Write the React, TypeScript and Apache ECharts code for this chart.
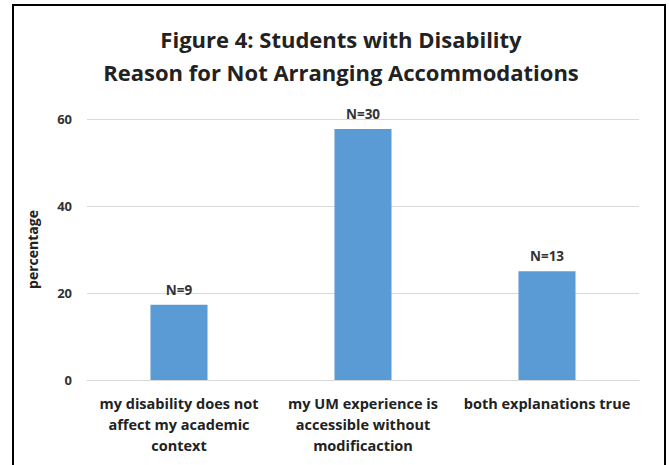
import React, { useEffect, useRef } from "react";
import * as echarts from "echarts";

const categories = [
  "my disability does not\naffect my academic\ncontext",
  "my UM experience is\naccessible without\nmodificaction",
  "both explanations true",
];
const percentages = [17.3, 57.7, 25.0];
const counts = ["N=9", "N=30", "N=13"];
const titleLines = ["Figure 4: Students with Disability", "Reason for Not Arranging Accommodations"];
const yAxisName = "percentage";

const FONT = "'Open Sans', 'Liberation Sans', sans-serif";

export default function App() {
  const ref = useRef<HTMLDivElement>(null);
  useEffect(() => {
    if (!ref.current) return;
    const chart = echarts.init(ref.current, undefined, { renderer: "svg" });
    chart.setOption({
      animation: false,
      backgroundColor: "#ffffff",
      title: {
        text: titleLines.join("\n"),
        left: 336,
        textAlign: "center",
        top: 17,
        textStyle: {
          fontFamily: FONT,
          fontSize: 22,
          fontWeight: "bold",
          color: "#222222",
          lineHeight: 33,
        },
      },
      graphic: [
        {
          type: "rect",
          shape: { x: 13, y: 5, width: 652, height: 480 },
          style: { fill: "none", stroke: "#000000", lineWidth: 2 },
          silent: true,
        },
      ],
      grid: { left: 87, right: 30, top: 119, bottom: 85 },
      xAxis: {
        type: "category",
        data: categories,
        axisLine: { lineStyle: { color: "#d9d9d9", width: 1 } },
        axisTick: { show: false },
        axisLabel: {
          interval: 0,
          margin: 13,
          fontFamily: FONT,
          fontSize: 14.5,
          fontWeight: "bold",
          color: "#222222",
          lineHeight: 21,
        },
      },
      yAxis: {
        type: "value",
        min: 0,
        max: 60,
        interval: 20,
        name: yAxisName,
        nameLocation: "middle",
        nameGap: 48,
        nameTextStyle: {
          fontFamily: FONT,
          fontSize: 14,
          fontWeight: "bold",
          color: "#222222",
        },
        axisLine: { show: false },
        axisTick: { show: false },
        splitLine: { lineStyle: { color: "#d9d9d9", width: 1 } },
        axisLabel: {
          margin: 15,
          fontFamily: FONT,
          fontSize: 13,
          fontWeight: "bold",
          color: "#333333",
        },
      },
      series: [
        {
          type: "bar",
          data: percentages,
          barWidth: "31%",
          itemStyle: { color: "#5b9bd5" },
          label: {
            show: true,
            position: "top",
            distance: 8,
            formatter: (p: any) => counts[p.dataIndex],
            fontFamily: FONT,
            fontSize: 13.5,
            fontWeight: "bold",
            color: "#333333",
          },
        },
      ],
    });
    return () => chart.dispose();
  }, []);
  return (
    <div
      ref={ref}
      style={{ position: "absolute", left: 0, top: 0, width: 669, height: 465 }}
    />
  );
}
